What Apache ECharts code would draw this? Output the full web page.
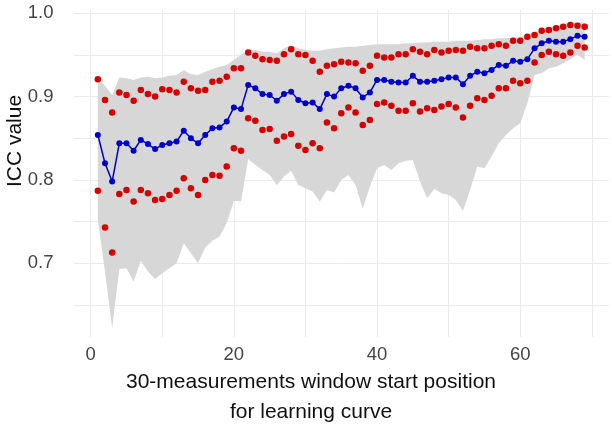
<!DOCTYPE html>
<html>
<head>
<meta charset="utf-8">
<script src="https://cdn.jsdelivr.net/npm/echarts@6/dist/echarts.min.js"></script>
<style>
html,body{margin:0;padding:0;background:#fff;}
#chart{width:612px;height:426px;}
</style>
</head>
<body>
<div id="chart"></div>
<script>
// window start positions
const positions = [1,2,3,4,5,6,7,8,9,10,11,12,13,14,15,16,17,18,19,20,21,22,23,24,25,26,27,28,29,30,
  31,32,33,34,35,36,37,38,39,40,41,42,43,44,45,46,47,48,49,50,51,52,53,54,55,56,57,58,59,60,
  61,62,63,64,65,66,67,68,69];
// ICC estimate (blue)
const iccValue = [0.854,0.820,0.798,0.844,0.844,0.835,0.848,0.843,0.837,0.842,
  0.844,0.846,0.859,0.850,0.844,0.854,0.862,0.863,0.870,0.887,
  0.885,0.914,0.910,0.903,0.902,0.895,0.903,0.906,0.896,0.892,
  0.893,0.885,0.903,0.900,0.910,0.913,0.910,0.899,0.905,0.920,
  0.920,0.918,0.917,0.917,0.925,0.918,0.918,0.919,0.921,0.923,
  0.923,0.915,0.925,0.930,0.928,0.932,0.938,0.937,0.943,0.942,
  0.945,0.958,0.964,0.967,0.966,0.966,0.969,0.973,0.972];
// upper red points
const ciUpper = [0.921,0.896,0.881,0.905,0.902,0.895,0.908,0.903,0.900,0.909,
  0.908,0.905,0.918,0.910,0.907,0.908,0.918,0.919,0.924,0.934,
  0.934,0.953,0.949,0.945,0.944,0.943,0.951,0.957,0.951,0.950,
  0.943,0.930,0.937,0.939,0.942,0.941,0.940,0.931,0.937,0.949,
  0.947,0.947,0.951,0.951,0.957,0.954,0.951,0.956,0.953,0.955,
  0.956,0.955,0.960,0.958,0.958,0.961,0.963,0.961,0.967,0.967,
  0.972,0.974,0.979,0.980,0.982,0.984,0.986,0.985,0.984];
// lower red points
const ciLower = [0.787,0.743,0.713,0.783,0.788,0.774,0.788,0.784,0.776,0.777,
  0.782,0.787,0.802,0.790,0.782,0.800,0.806,0.805,0.816,0.838,
  0.835,0.874,0.871,0.860,0.861,0.847,0.852,0.855,0.841,0.836,
  0.844,0.838,0.869,0.862,0.880,0.887,0.881,0.866,0.872,0.891,
  0.893,0.889,0.883,0.883,0.892,0.882,0.886,0.884,0.888,0.891,
  0.887,0.875,0.889,0.898,0.896,0.901,0.910,0.910,0.919,0.916,
  0.919,0.941,0.950,0.954,0.951,0.949,0.953,0.961,0.959];
// grey band upper edge
const bandUpper = [0.922,0.913,0.902,0.923,0.922,0.920,0.923,0.924,0.922,0.923,
  0.925,0.926,0.932,0.927,0.926,0.930,0.933,0.936,0.938,0.944,
  0.950,0.956,0.956,0.954,0.954,0.952,0.958,0.962,0.958,0.956,
  0.955,0.955,0.957,0.958,0.959,0.960,0.960,0.961,0.962,0.963,
  0.963,0.963,0.963,0.964,0.964,0.965,0.965,0.966,0.966,0.966,
  0.967,0.967,0.967,0.968,0.969,0.969,0.970,0.970,0.971,0.971,
  0.975,0.977,0.981,0.983,0.985,0.987,0.989,0.989,0.989];
// grey band lower edge
const bandLower = [0.752,0.690,0.622,0.693,0.694,0.678,0.703,0.690,0.681,0.688,
  0.694,0.700,0.724,0.712,0.700,0.719,0.727,0.732,0.748,0.775,
  0.774,0.825,0.818,0.812,0.806,0.794,0.804,0.811,0.794,0.790,
  0.786,0.774,0.788,0.785,0.800,0.806,0.794,0.765,0.792,0.814,
  0.818,0.812,0.820,0.823,0.824,0.798,0.778,0.789,0.784,0.782,
  0.776,0.763,0.788,0.816,0.814,0.828,0.844,0.854,0.862,0.868,
  0.892,0.926,0.928,0.934,0.936,0.940,0.945,0.951,0.944];
const xTickLabels = [0,20,40,60];
const yTickLabels = [0.7,0.8,0.9,1.0];
const xGrid = [0,10,20,30,40,50,60,70];
const yGrid = [0.65,0.7,0.75,0.8,0.85,0.9,0.95,1.0];

const pairs = (ys) => positions.map((x,i)=>[x, ys[i]]);

const FONT = 'Liberation Sans, Arial, sans-serif';
const chart = echarts.init(document.getElementById('chart'), null, {renderer:'canvas'});
chart.setOption({
  animation:false,
  grid:{left:73.5, right:3, top:10, bottom:89, containLabel:false},
  xAxis:{type:'value', min:-2.4, max:72.4,
    axisLine:{show:false}, axisTick:{show:false}, splitLine:{show:false},
    axisLabel:{customValues:xTickLabels, fontSize:18.5, color:'#444', fontFamily:FONT, margin:8}},
  yAxis:{type:'value', min:0.6114, max:1.004,
    axisLine:{show:false}, axisTick:{show:false}, splitLine:{show:false},
    axisLabel:{customValues:yTickLabels, fontSize:18.5, color:'#444', fontFamily:FONT, margin:20,
      formatter:(v)=>v.toFixed(1)}},
  series:[
    {type:'line', name:'grid', data:[], silent:true, z:0,
      markLine:{silent:true, symbol:'none', label:{show:false}, animation:false, z:0, zlevel:0,
        lineStyle:{color:'#ebebeb', width:1, type:'solid'},
        data: xGrid.map(v=>({xAxis:v})).concat(yGrid.map(v=>({yAxis:v})))}},
    {type:'custom', name:'band', data:pairs(bandLower), silent:true, z:1, clip:true,
      renderItem:(params, api)=>{
        if (params.dataIndex !== 0) return null;
        const pts = [];
        for (let i=0;i<positions.length;i++) pts.push(api.coord([positions[i], bandUpper[i]]));
        for (let i=positions.length-1;i>=0;i--) pts.push(api.coord([positions[i], bandLower[i]]));
        return {type:'polygon', shape:{points:pts}, style:{fill:'#d7d7d7', stroke:null}};
      }},
    {type:'scatter', name:'upper', data:pairs(ciUpper), symbolSize:6.5,
      itemStyle:{color:'#d50000', opacity:1}, z:3},
    {type:'scatter', name:'lower', data:pairs(ciLower), symbolSize:6.5,
      itemStyle:{color:'#d50000', opacity:1}, z:3},
    {type:'line', name:'ICC', data:pairs(iccValue), symbol:'circle', symbolSize:6, showAllSymbol:true,
      lineStyle:{color:'#0000cc', width:1.5}, itemStyle:{color:'#0000cc', opacity:1}, z:4}
  ],
  graphic:[
    {type:'text', x:311, y:382, style:{text:'30-measurements window start position', font:'21px '+FONT,
      fill:'#111', textAlign:'center', textVerticalAlign:'middle'}},
    {type:'text', x:311, y:412, style:{text:'for learning curve', font:'21px '+FONT,
      fill:'#111', textAlign:'center', textVerticalAlign:'middle'}},
    {type:'text', x:15, y:141, rotation:Math.PI/2, style:{text:'ICC value', font:'21px '+FONT,
      fill:'#111', textAlign:'center', textVerticalAlign:'middle'}}
  ]
});
</script>
</body>
</html>
